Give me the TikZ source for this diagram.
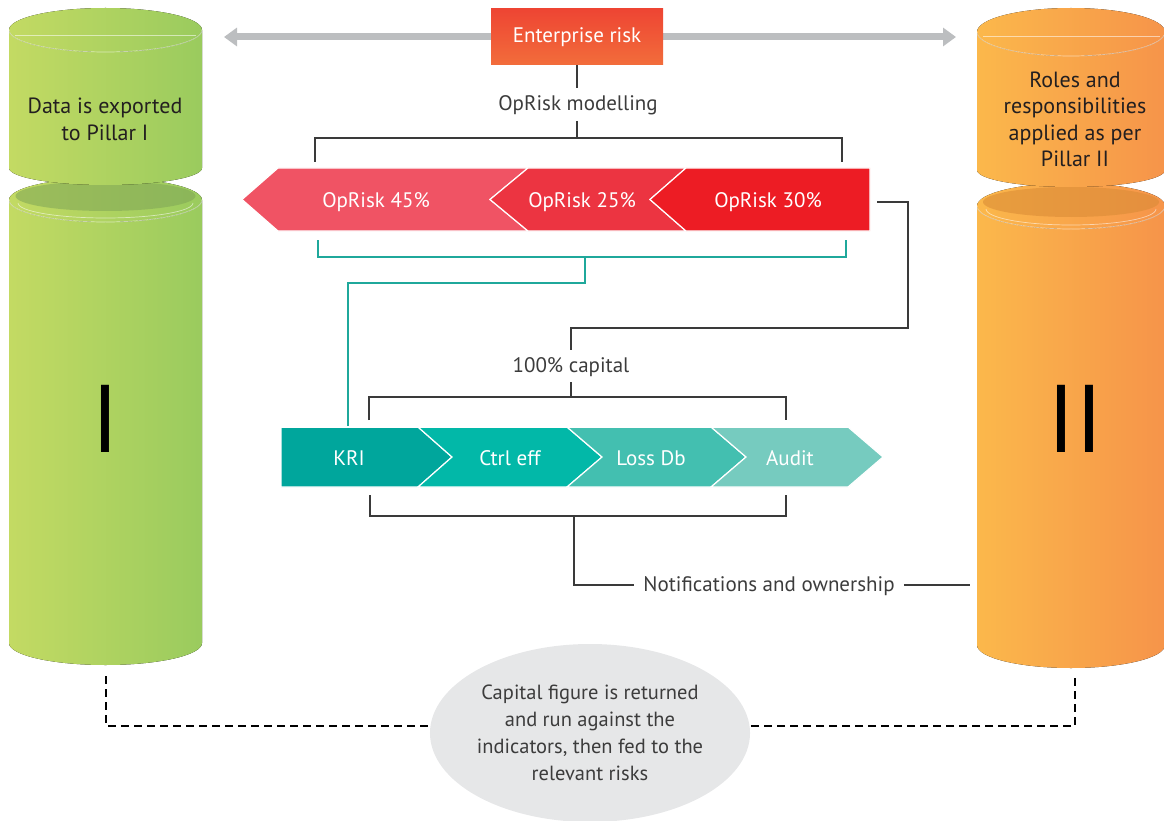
\documentclass[tikz,border=0pt]{standalone}
\usepackage{fontspec}
\setmainfont{PT Sans}
\usetikzlibrary{arrows.meta,shapes.geometric,calc}
\definecolor{gL}{HTML}{C3DA63}
\definecolor{gR}{HTML}{9ACB5E}
\definecolor{gD}{HTML}{7FA556}
\definecolor{oL}{HTML}{FBB84B}
\definecolor{oR}{HTML}{F6944A}
\definecolor{oD}{HTML}{D88A35}
\definecolor{erT}{HTML}{EE4533}
\definecolor{erB}{HTML}{F26D3B}
\definecolor{agrey}{HTML}{BCBEC0}
\definecolor{txtgrey}{HTML}{3C3C3C}
\definecolor{txtdark}{HTML}{231F20}
\definecolor{lgrey}{HTML}{3A3A3A}
\definecolor{tline}{HTML}{1FA89B}
\definecolor{rA}{HTML}{F05364}
\definecolor{rB}{HTML}{EC3441}
\definecolor{rC}{HTML}{ED1C24}
\definecolor{tA}{HTML}{00A69C}
\definecolor{tB}{HTML}{02B8A8}
\definecolor{tC}{HTML}{43BFB0}
\definecolor{tD}{HTML}{76CBBF}
\definecolor{ellg}{HTML}{E6E7E8}
\tikzset{
  lbl/.style={text=txtgrey, font=\fontsize{21}{25}\selectfont, inner sep=1pt},
  wlbl/.style={text=white, font=\fontsize{21}{25}\selectfont, inner sep=1pt},
  cyltext/.style={text=txtdark, font=\fontsize{22}{26.5}\selectfont, align=center, inner sep=0pt},
  bigroman/.style={text=black, font=\fontsize{96}{96}\selectfont, inner sep=0pt},
  conn/.style={draw=lgrey, line width=2pt},
  tconn/.style={draw=tline, line width=1.5pt},
  dconn/.style={draw=black, line width=1.8pt, dash pattern=on 8pt off 5pt},
  chev/.style={draw=white, line width=1.2pt},
  rim/.style={draw=white, draw opacity=0.55, line width=0.7pt},
}
\begin{document}
\begin{tikzpicture}[x=1pt,y=-1pt]
\useasboundingbox (0,0) rectangle (1164,821);

% ---------- left cylinder (green) ----------
\fill[left color=gL, right color=gR] (9,200) -- (9,643)
  arc[start angle=180,end angle=360,x radius=96.5pt,y radius=22pt] -- (202,200) -- cycle;
\fill[left color=gL, right color=gR] (105.5,200) ellipse[x radius=96.5pt, y radius=22pt];
\fill[gD, opacity=0.55] (105.5,196) ellipse[x radius=90pt, y radius=15pt];
\draw[rim] (9,200) arc[start angle=180,end angle=360,x radius=96.5pt,y radius=22pt];
\draw[rim] (18,203) arc[start angle=180,end angle=360,x radius=87.5pt,y radius=15pt];
\fill[left color=gL, right color=gR] (9,30) -- (9,168)
  arc[start angle=180,end angle=360,x radius=96.5pt,y radius=17pt] -- (202,30) -- cycle;
\fill[left color=gL, right color=gR] (105.5,30) ellipse[x radius=96.5pt, y radius=22pt];
\draw[rim] (9,30) arc[start angle=180,end angle=360,x radius=96.5pt,y radius=22pt];
\draw[rim] (15,35) -- (196,35);

% ---------- right cylinder (orange) ----------
\fill[left color=oL, right color=oR] (977,206) -- (977,645)
  arc[start angle=180,end angle=360,x radius=94pt,y radius=23pt] -- (1165,206) -- cycle;
\fill[left color=oL, right color=oR] (1071,206) ellipse[x radius=94pt, y radius=23pt];
\fill[oD, opacity=0.55] (1071,202) ellipse[x radius=88pt, y radius=15pt];
\draw[rim] (977,206) arc[start angle=180,end angle=360,x radius=94pt,y radius=23pt];
\draw[rim] (986,209) arc[start angle=180,end angle=360,x radius=85pt,y radius=16pt];
\fill[left color=oL, right color=oR] (977,32) -- (977,170)
  arc[start angle=180,end angle=360,x radius=94pt,y radius=17pt] -- (1165,32) -- cycle;
\fill[left color=oL, right color=oR] (1071,32) ellipse[x radius=94pt, y radius=24pt];
\draw[rim] (977,32) arc[start angle=180,end angle=360,x radius=94pt,y radius=24pt];
\draw[rim] (983,36) -- (1160,36);

% cylinder texts
\node[cyltext] (p1text) at (105,119.5) {Data is exported\\to Pillar I};
\node[cyltext] (p2text) at (1075,119.5) {Roles and\\responsibilities\\applied as per\\Pillar II};
\node[bigroman] (p1) at (105,419) {I};
\node[bigroman] (p2) at (1075,419) {II};

% ---------- top: enterprise risk ----------
\coordinate (arrL) at (224,37);
\coordinate (arrR) at (956,37);
\draw[agrey, line width=7pt, {Triangle[width=18pt,length=13pt]}-{Triangle[width=18pt,length=13pt]}] (arrL) -- (arrR);
\node[top color=erT, bottom color=erB, minimum width=172pt, minimum height=56pt, inner sep=0pt,
      text=white, font=\fontsize{21}{25}\selectfont] (er) at (577,37) {Enterprise risk};
\node[lbl] (oprm) at (578,105) {OpRisk modelling};
\draw[conn] (er.south) -- (577,88);
\coordinate (b1c) at (577,121);
\coordinate (b1m) at (577,138);
\coordinate (b1l) at (315,162);
\coordinate (b1r) at (842,162);
\draw[conn] (b1c) -- (b1m);
\draw[conn] (b1l) |- (b1m) -| (b1r);

% ---------- red chevrons ----------
\path[fill=rA, chev] (242,199.5) -- (278,168) -- (528,168) -- (490,199.5) -- (528,231) -- (278,231) -- cycle;
\path[fill=rB, chev] (490,199.5) -- (528,168) -- (686,168) -- (650,199.5) -- (686,231) -- (528,231) -- cycle;
\path[fill=rC, chev] (650,199.5) -- (686,168) -- (870,168) -- (870,231) -- (686,231) -- cycle;
\node[wlbl] (c45) at (376,202.5) {OpRisk 45\%};
\node[wlbl] (c25) at (582,202.5) {OpRisk 25\%};
\node[wlbl] (c30) at (768,202.5) {OpRisk 30\%};

% teal bracket under red chevrons to KRI
\coordinate (t1l) at (318,240);
\coordinate (t1r) at (846,240);
\coordinate (t1m) at (585,257);
\draw[tconn] (t1l) |- (t1m) -| (t1r);
\coordinate (t1d) at (585,283);
\draw[tconn] (t1m) -- (t1d) -| (348,427);

% dark connector from OpRisk 30% to 100% capital
\coordinate (r30) at (877,202);
\coordinate (cap100t) at (571,350);
\node[lbl] (cap) at (571,367) {100\% capital};
\draw[conn] (r30) -- (908,202) |- (571,328) -- (cap100t);
\coordinate (b2c) at (571,382);
\coordinate (b2m) at (571,397);
\coordinate (b2l) at (369,420);
\coordinate (b2r) at (786,420);
\draw[conn] (b2c) -- (b2m);
\draw[conn] (b2l) |- (b2m) -| (b2r);

% ---------- teal chevrons ----------
\path[fill=tA, chev] (281,427) -- (418,427) -- (452,457) -- (418,487) -- (281,487) -- cycle;
\path[fill=tB, chev] (418,427) -- (567,427) -- (602,457) -- (567,487) -- (418,487) -- (452,457) -- cycle;
\path[fill=tC, chev] (567,427) -- (711,427) -- (746,457) -- (711,487) -- (567,487) -- (602,457) -- cycle;
\path[fill=tD, chev] (711,427) -- (848,427) -- (883,457) -- (848,487) -- (711,487) -- (746,457) -- cycle;
\draw[white, line width=1.2pt] (281,427) -- (882,427);
\node[wlbl] (kri) at (349,458.5) {KRI};
\node[wlbl] (ctrl) at (510,458.5) {Ctrl eff};
\node[wlbl] (loss) at (651,458.5) {Loss Db};
\node[wlbl] (audit) at (790,458.5) {Audit};

% bottom bracket and notifications
\coordinate (b3l) at (370,495);
\coordinate (b3r) at (786,495);
\coordinate (b3m) at (574,516);
\draw[conn] (b3l) |- (b3m) -| (b3r);
\node[lbl] (notif) at (769,586) {Notifications and ownership};
\coordinate (notR) at (970,585);
\draw[conn] (b3m) |- ([xshift=-8pt]notif.west |- 0,585);
\draw[conn] ([xshift=8pt]notif.east |- 0,585) -- (notR);

% ---------- dashed return and bottom ellipse ----------
\coordinate (d1) at (106,676);
\coordinate (d2) at (1075,678);
\coordinate (dl) at (470,726);
\coordinate (dr) at (710,726);
\draw[dconn] (d1) |- (dl);
\draw[dconn] (d2) |- (dr);
\node[ellipse, fill=ellg, minimum width=316pt, minimum height=178pt, inner sep=0pt,
      text=txtgrey, font=\fontsize{20.5}{27}\selectfont, align=center] (cf) at (590,733)
  {Capital figure is returned\\and run against the\\indicators, then fed to the\\relevant risks};
\end{tikzpicture}
\end{document}
